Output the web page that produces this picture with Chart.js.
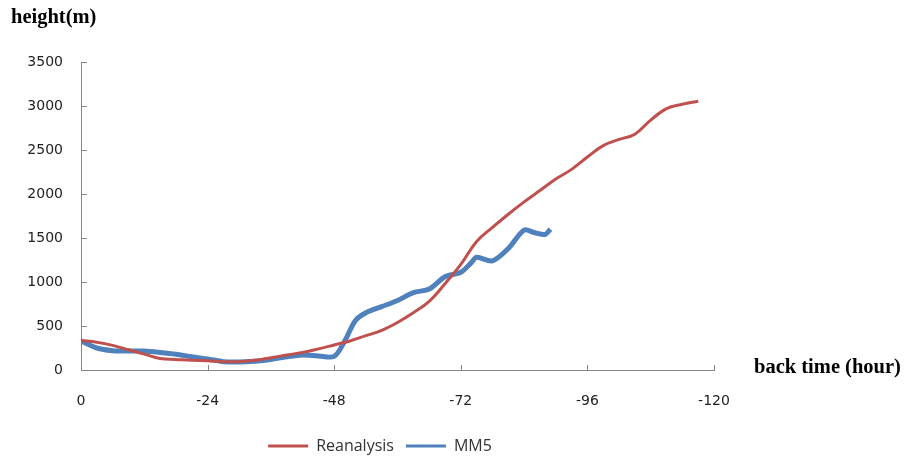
<!DOCTYPE html>
<html>
<head>
<meta charset="utf-8">
<script src="https://cdn.jsdelivr.net/npm/chart.js@4"></script>
<style>
  html, body { margin: 0; padding: 0; background: #fff; }
</style>
</head>
<body>
<canvas id="chart" width="909" height="461"></canvas>
<script>
// back time in hours (negative = backwards)
const horasReanalysis = [0, -3, -6, -9, -12, -15, -18, -21, -24, -27, -30, -33, -36, -39, -42, -45, -48,
  -51, -54, -57, -60, -63, -66, -69, -72, -75, -78, -81, -84, -87, -90, -93, -96, -99, -102, -105,
  -108, -111, -114, -117];
const alturaReanalysis = [335, 315, 280, 230, 180, 130, 120, 110, 105, 95, 95, 110, 140, 170, 200, 240, 285,
  330, 390, 450, 540, 650, 780, 980, 1200, 1460, 1620, 1770, 1910, 2040, 2170, 2280, 2420, 2550, 2620, 2680,
  2840, 2970, 3020, 3055];

const horasMM5 = [0, -3, -6, -9, -12, -15, -18, -21, -24, -27, -30, -33, -36, -39, -42, -45, -48, -50, -52,
  -54, -57, -60, -63, -66, -69, -72, -74, -75, -78, -81, -84, -86, -88, -89];
const alturaMM5 = [330, 250, 220, 215, 215, 200, 180, 150, 125, 95, 90, 100, 120, 150, 170, 160, 155, 330, 560,
  650, 720, 790, 880, 920, 1060, 1110, 1220, 1280, 1240, 1380, 1590, 1560, 1540, 1600];

const ticksX = [0, -24, -48, -72, -96, -120];

const pontos = (xs, ys) => xs.map((x, i) => ({ x: x, y: ys[i] }));

const corEixo = "#868686";

// ticks pointing inside the plot, like the original
const ticksInternos = {
  id: "ticksInternos",
  beforeDatasetsDraw(chart) {
    const { ctx, chartArea: a, scales: { x, y } } = chart;
    ctx.save();
    ctx.strokeStyle = corEixo;
    ctx.lineWidth = 1;
    ctx.beginPath();
    x.ticks.forEach(t => {
      const px = Math.round(x.getPixelForValue(t.value)) + 0.5;
      ctx.moveTo(px, a.bottom);
      ctx.lineTo(px, a.bottom - 5);
    });
    y.ticks.forEach(t => {
      const py = Math.round(y.getPixelForValue(t.value)) + 0.5;
      ctx.moveTo(a.left, py);
      ctx.lineTo(a.left + 6, py);
    });
    ctx.stroke();
    ctx.restore();
  }
};

// axis titles in the corners
const titulos = {
  id: "titulos",
  afterDraw(chart) {
    const ctx = chart.ctx;
    ctx.save();
    ctx.fillStyle = "#000";
    ctx.font = "bold 20.5px 'Liberation Serif', serif";
    ctx.textBaseline = "alphabetic";
    ctx.textAlign = "left";
    ctx.fillText("height(m)", 11, 23);
    ctx.fillText("back time (hour)", 754, 373);
    ctx.restore();
  }
};

// nudge the legend a bit right and down
const moverLegenda = {
  id: "moverLegenda",
  afterLayout(chart) {
    const l = chart.legend;
    l.left += 23; l.right += 23;
    l.top += 3; l.bottom += 3;
  }
};

new Chart(document.getElementById("chart"), {
  type: "line",
  data: {
    datasets: [
      {
        label: "Reanalysis",
        data: pontos(horasReanalysis, alturaReanalysis),
        borderColor: "#C0504D",
        backgroundColor: "#C0504D",
        borderWidth: 3,
        pointRadius: 0,
        tension: 0.4
      },
      {
        label: "MM5",
        data: pontos(horasMM5, alturaMM5),
        borderColor: "#4F81BD",
        backgroundColor: "#4F81BD",
        borderWidth: 5,
        pointRadius: 0,
        tension: 0.3
      }
    ]
  },
  options: {
    responsive: false,
    animation: false,
    devicePixelRatio: 1,
    layout: { padding: { top: 62, left: 0, right: 195, bottom: 0 } },
    plugins: {
      legend: {
        position: "bottom",
        labels: {
          usePointStyle: true,
          pointStyle: "line",
          pointStyleWidth: 40,
          color: "#333",
          font: { family: "'Open Sans', sans-serif", size: 16 },
          padding: 12,
          generateLabels: chart =>
            Chart.defaults.plugins.legend.labels.generateLabels(chart)
              .map(item => ({ ...item, lineWidth: 3 }))
        }
      },
      tooltip: { enabled: false }
    },
    scales: {
      x: {
        type: "linear",
        min: -120,
        max: 0,
        reverse: true,
        afterBuildTicks: scale => { scale.ticks = ticksX.map(v => ({ value: v })); },
        afterFit: scale => { scale.height = 53; },
        grid: { display: false, drawTicks: false },
        border: { color: corEixo, width: 1 },
        ticks: {
          color: "#222",
          padding: 23,
          font: { family: "'DejaVu Sans', sans-serif", size: 14 }
        }
      },
      y: {
        min: 0,
        max: 3500,
        afterFit: scale => { scale.width = 81; },
        grid: { display: false, drawTicks: false },
        border: { color: corEixo, width: 1 },
        ticks: {
          stepSize: 500,
          color: "#222",
          padding: 18,
          callback: v => String(v),
          font: { family: "'DejaVu Sans', sans-serif", size: 14 }
        }
      }
    }
  },
  plugins: [ticksInternos, titulos, moverLegenda]
});
</script>
</body>
</html>
